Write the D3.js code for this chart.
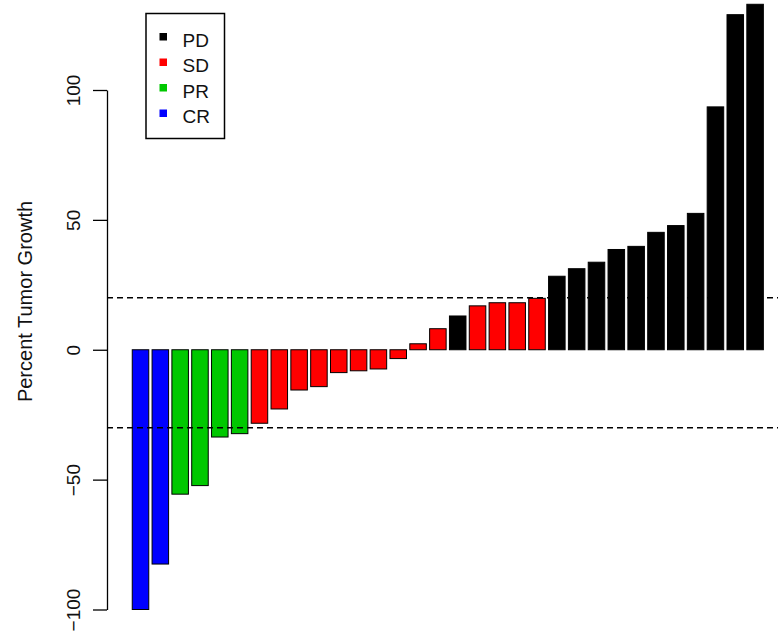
<!DOCTYPE html>
<html>
<head>
<meta charset="utf-8">
<script src="https://cdn.jsdelivr.net/npm/d3@7"></script>
<style>
  html, body { margin: 0; padding: 0; background: #fff; }
  svg { display: block; font-family: "Liberation Sans", Arial, Helvetica, sans-serif; }
</style>
</head>
<body>
<svg id="chart" width="778" height="633"></svg>
<script>
// ---- data ----
const values = [-100, -82.5, -55.6, -52.3, -33.6, -32.3, -28.3, -22.8, -15.5, -14.2,
  -8.8, -8.1, -7.4, -3.4, 2.3, 8.1, 13.0, 16.9, 18.1, 18.1, 19.8, 28.3, 31.2, 33.7,
  38.6, 39.8, 45.2, 47.8, 52.5, 93.5, 129, 133];
const responses = ["CR", "CR", "PR", "PR", "PR", "PR", "SD", "SD", "SD", "SD",
  "SD", "SD", "SD", "SD", "SD", "SD", "PD", "SD", "SD", "SD", "SD", "PD", "PD", "PD",
  "PD", "PD", "PD", "PD", "PD", "PD", "PD", "PD"];
const legendLabels = ["PD", "SD", "PR", "CR"];
const legendColors = ["#000000", "#FF0000", "#00C800", "#0000FF"];
const yTicks = [-100, -50, 0, 50, 100];
const refLines = [20, -30];
const yTitle = "Percent Tumor Growth";

// ---- scales ----
const svg = d3.select("#chart");
const color = d3.scaleOrdinal().domain(legendLabels).range(legendColors);
const n = values.length;
const space = 0.2, barW = 1;
const xMin = space, xMax = n * (barW + space);
const pad = (xMax - xMin) * 0.04;
const x = d3.scaleLinear().domain([xMin - pad, xMax + pad]).range([107, 788.6]);
const y = d3.scaleLinear().domain([-100, 100]).range([609.5, 90]);

// ---- bars ----
svg.append("g").selectAll("rect").data(values).join("rect")
  .attr("x", (d, i) => x(space + i * (barW + space)))
  .attr("width", (d, i) => x(space + i * (barW + space) + barW) - x(space + i * (barW + space)))
  .attr("y", d => y(Math.max(0, d)))
  .attr("height", d => Math.abs(y(d) - y(0)))
  .attr("fill", (d, i) => color(responses[i]))
  .attr("stroke", "#000")
  .attr("stroke-width", 1);

// ---- reference lines ----
svg.append("g").selectAll("line").data(refLines).join("line")
  .attr("x1", x.range()[0]).attr("x2", x.range()[1])
  .attr("y1", d => y(d)).attr("y2", d => y(d))
  .attr("stroke", "#000").attr("stroke-width", 1.4)
  .attr("stroke-dasharray", "6,4");

// ---- y axis ----
const axis = svg.append("g")
  .attr("transform", `translate(${x.range()[0]},0)`)
  .call(d3.axisLeft(y).tickValues(yTicks).tickSize(14).tickSizeOuter(0).tickFormat(d3.format("d")));
axis.select(".domain").attr("stroke", "#000").attr("stroke-width", 1.3);
axis.selectAll(".tick line").attr("stroke", "#000").attr("stroke-width", 1.3);
axis.selectAll(".tick text")
  .attr("x", null).attr("dy", null).attr("y", null)
  .attr("transform", "translate(-27,0) rotate(-90)")
  .attr("text-anchor", "middle")
  .attr("font-size", 19)
  .attr("font-family", "Liberation Sans, Arial, sans-serif")
  .attr("fill", "#111");

// ---- y title ----
svg.append("text")
  .attr("transform", "translate(32,301.5) rotate(-90)")
  .attr("text-anchor", "middle")
  .attr("font-size", 20)
  .attr("fill", "#111")
  .text(yTitle);

// ---- legend ----
const lg = svg.append("g");
lg.append("rect")
  .attr("x", 146).attr("y", 13.5).attr("width", 78.5).attr("height", 125)
  .attr("fill", "#fff").attr("stroke", "#000").attr("stroke-width", 1.5);
const items = lg.selectAll("g.item").data(legendLabels).join("g")
  .attr("class", "item")
  .attr("transform", (d, i) => `translate(0,${46.5 + i * 25.5})`);
items.append("rect")
  .attr("x", 159.5).attr("y", -13.5).attr("width", 7.5).attr("height", 7.5)
  .attr("fill", d => color(d));
items.append("text")
  .attr("x", 182.5).attr("y", 0)
  .attr("font-size", 19)
  .attr("fill", "#111")
  .text(d => d);
</script>
</body>
</html>
